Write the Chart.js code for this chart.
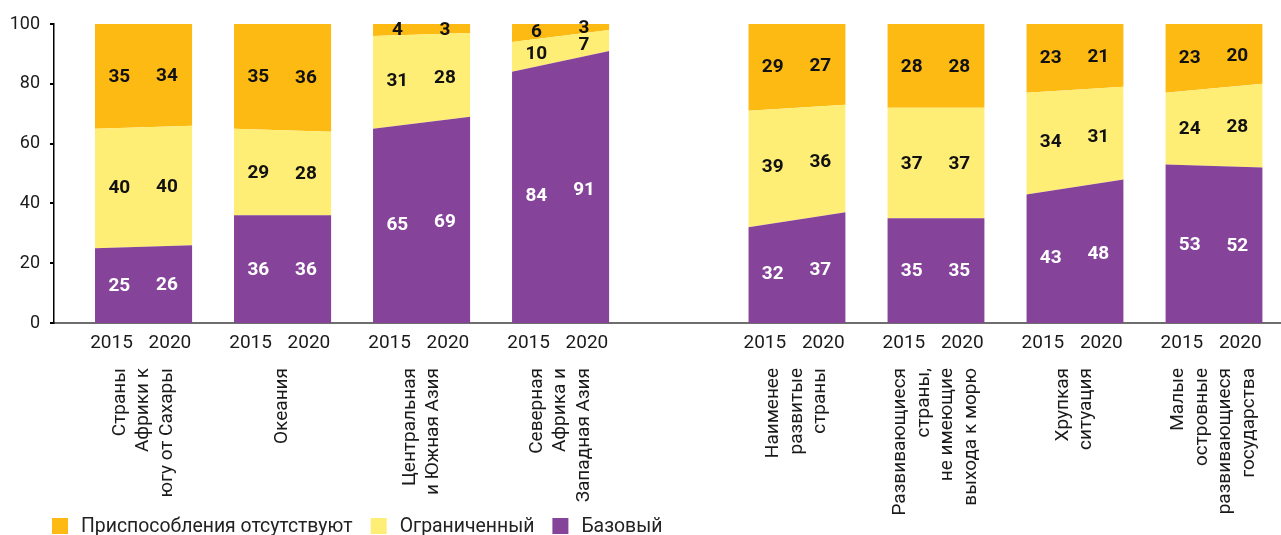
<!DOCTYPE html>
<html lang="ru">
<head>
<meta charset="utf-8">
<title>Уровень приспособлений</title>
<script src="https://cdn.jsdelivr.net/npm/chart.js@4/dist/chart.umd.min.js"></script>
<style>
  html, body { margin: 0; padding: 0; background: #fff; }
  #wrap { width: 1281px; height: 535px; }
</style>
</head>
<body>
<div id="wrap"><canvas id="graficoNiveles" width="1281" height="535"></canvas></div>
<script>
// Группы стран (подписи под осью, по строкам)
const groupNames = [
    ['Страны', 'Африки к', 'югу от Сахары'],
    ['Океания'],
    ['Центральная', 'и Южная Азия'],
    ['Северная', 'Африка и', 'Западная Азия'],
    ['Наименее', 'развитые', 'страны'],
    ['Развивающиеся', 'страны,', 'не имеющие', 'выхода к морю'],
    ['Хрупкая', 'ситуация'],
    ['Малые', 'островные', 'развивающиеся', 'государства']
];
const yearLabels = ['2015', '2020'];
const yTicks = [0, 20, 40, 60, 80, 100];

// Доли, %
const basic2015 = [25, 36, 65, 84, 32, 35, 43, 53];
const basic2020 = [26, 36, 69, 91, 37, 35, 48, 52];
const limited2015 = [40, 29, 31, 10, 39, 37, 34, 24];
const limited2020 = [40, 28, 28, 7, 36, 37, 31, 28];
const none2015 = [35, 35, 4, 6, 29, 28, 23, 23];
const none2020 = [34, 36, 3, 3, 27, 28, 21, 20];

// Размещение блоков по оси X (в шагах между блоками)
const slotX = [0, 1, 2, 3, 4.7, 5.7, 6.7, 7.7];
const barWidth = 0.7;
const valueFrac = [0.25, 0.74];
const yearFrac = [0.17, 0.77];

const FONT = 'Roboto, "Noto Sans", sans-serif';

// Слои снизу вверх
const layers = [
    { name: 'Базовый', v15: basic2015, v20: basic2020, color: '#85449a', text: '#ffffff' },
    { name: 'Ограниченный', v15: limited2015, v20: limited2020, color: '#ffee75', text: '#111111' },
    { name: 'Приспособления отсутствуют', v15: none2015, v20: none2020, color: '#fdba13', text: '#111111' }
];

// Для каждой группы три заливки: от 0 (или от предыдущего слоя) до накопленной суммы
function construirDatasets() {
    const datasets = [];
    groupNames.forEach((_, g) => {
        let base15 = 0;
        let base20 = 0;
        layers.forEach((layer, i) => {
            base15 += layer.v15[g];
            base20 += layer.v20[g];
            datasets.push({
                label: layer.name,
                data: [
                    { x: slotX[g], y: base15 },
                    { x: slotX[g] + barWidth, y: base20 }
                ],
                backgroundColor: layer.color,
                borderWidth: 0,
                pointRadius: 0,
                tension: 0,
                fill: i === 0 ? 'origin' : '-1'
            });
        });
    });
    return datasets;
}

// Подписи значений, годов, групп и легенда
const anotaciones = {
    id: 'anotaciones',
    afterDatasetsDraw(chart) {
        const { ctx, scales: { x, y } } = chart;
        ctx.save();
        ctx.font = 'bold 19px ' + FONT;
        ctx.textAlign = 'center';
        ctx.textBaseline = 'middle';
        groupNames.forEach((_, g) => {
            let b15 = 0;
            let b20 = 0;
            layers.forEach(layer => {
                const v = [layer.v15[g], layer.v20[g]];
                valueFrac.forEach((f, k) => {
                    const lo = b15 + f * (b20 - b15);
                    const hi = (b15 + v[0]) + f * ((b20 + v[1]) - (b15 + v[0]));
                    ctx.fillStyle = layer.text;
                    ctx.fillText(String(v[k]),
                        x.getPixelForValue(slotX[g] + f * barWidth),
                        y.getPixelForValue((lo + hi) / 2) + 1);
                });
                b15 += v[0];
                b20 += v[1];
            });
        });
        ctx.restore();
    },
    afterDraw(chart) {
        const { ctx, scales: { x } } = chart;
        ctx.save();
        ctx.fillStyle = '#1a1a1a';

        // годы под каждым блоком
        ctx.font = '19px ' + FONT;
        ctx.textAlign = 'center';
        ctx.textBaseline = 'middle';
        groupNames.forEach((_, g) => {
            yearLabels.forEach((yr, k) => {
                ctx.fillText(yr, x.getPixelForValue(slotX[g] + yearFrac[k] * barWidth), 343);
            });
        });

        // названия групп, повёрнутые на 90°
        groupNames.forEach((lines, g) => {
            const cx = x.getPixelForValue(slotX[g] + barWidth / 2);
            lines.forEach((line, i) => {
                ctx.save();
                ctx.translate(cx + (i - (lines.length - 1) / 2) * 23.5, 368);
                ctx.rotate(-Math.PI / 2);
                ctx.textAlign = 'right';
                ctx.textBaseline = 'middle';
                ctx.fillText(line, 0, 0);
                ctx.restore();
            });
        });

        // легенда
        ctx.font = '19.4px ' + FONT;
        ctx.textAlign = 'left';
        ctx.textBaseline = 'middle';
        let lx = 52;
        layers.slice().reverse().forEach(layer => {
            ctx.fillStyle = layer.color;
            ctx.fillRect(lx, 518, 16, 16);
            ctx.fillStyle = '#222';
            ctx.fillText(layer.name, lx + 29, 527);
            lx += 29 + ctx.measureText(layer.name).width + 18;
        });
        ctx.restore();
    }
};

function generarGrafico() {
    const ctx = document.getElementById('graficoNiveles').getContext('2d');
    new Chart(ctx, {
        type: 'line',
        data: { datasets: construirDatasets() },
        plugins: [anotaciones],
        options: {
            responsive: false,
            animation: false,
            events: [],
            layout: { padding: { top: 24, left: 0, right: 0, bottom: 0 } },
            plugins: {
                legend: { display: false },
                tooltip: { enabled: false }
            },
            scales: {
                x: {
                    type: 'linear',
                    min: -0.295,
                    max: 8.532,
                    grid: { display: false },
                    ticks: { display: false },
                    border: { display: true, color: '#6e6e6e', width: 2 },
                    afterFit(scale) { scale.height = 212; }
                },
                y: {
                    min: 0,
                    max: 100,
                    afterBuildTicks(scale) {
                        scale.ticks = yTicks.map(v => ({ value: v }));
                    },
                    grid: {
                        display: true,
                        drawOnChartArea: false,
                        drawTicks: true,
                        tickLength: 4,
                        color: '#000',
                        lineWidth: 2
                    },
                    border: { display: true, color: '#000', width: 1.5 },
                    ticks: {
                        padding: 10,
                        color: '#1a1a1a',
                        font: { family: FONT, size: 18 }
                    },
                    afterFit(scale) { scale.width = 54; }
                }
            }
        }
    });
}

document.addEventListener('DOMContentLoaded', generarGrafico);
</script>
</body>
</html>
